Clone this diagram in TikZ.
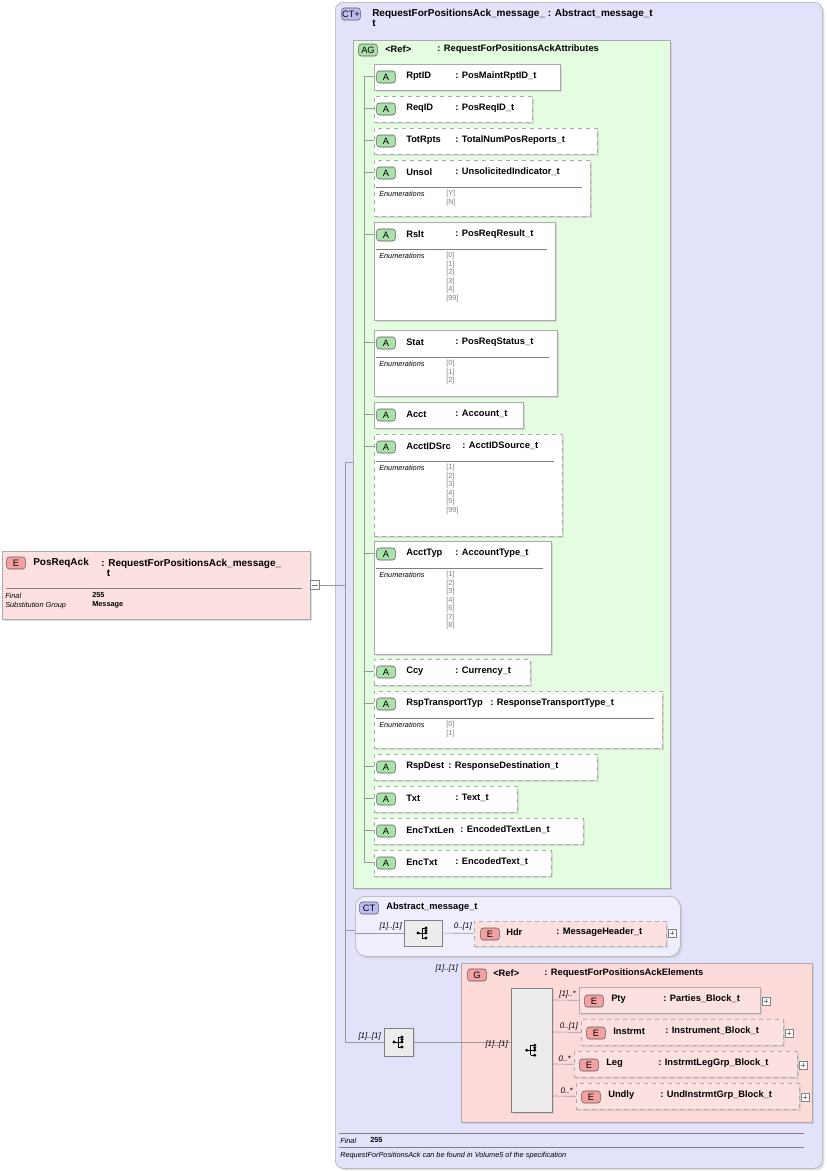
\documentclass[tikz,border=0pt]{standalone}
\usepackage{fontspec}
\setmainfont{Liberation Sans}
\usetikzlibrary{positioning,shadows}
\definecolor{ctbg}{RGB}{226,226,250}
\definecolor{agbg}{RGB}{228,252,224}
\definecolor{ebg}{RGB}{253,224,224}
\definecolor{gbg}{RGB}{253,218,218}
\definecolor{bord}{RGB}{170,170,170}
\definecolor{abadge}{RGB}{170,225,170}
\definecolor{ebadge}{RGB}{245,160,160}
\definecolor{ctbadge}{RGB}{190,190,245}
\tikzset{
 x=0.75pt,y=-0.75pt,
 every node/.style={inner sep=0pt,font=\fontsize{7}{8}\selectfont\bfseries},
 box/.style={draw=bord,fill=white,drop shadow={shadow xshift=1.5pt,shadow yshift=-1.5pt,fill=black!25}},
 dbox/.style={box,dashed},
 wire/.style={draw=gray!80,line width=0.5pt},
 badge/.style={draw=gray!70!black,rounded corners=2pt,minimum width=14pt,minimum height=9pt,font=\fontsize{7}{8}\selectfont},
 enum/.style={font=\fontsize{5.5}{6.4}\selectfont,text=gray,anchor=north west,align=left},
 lab/.style={font=\fontsize{5.5}{6.5}\selectfont\itshape,anchor=west},
 mult/.style={font=\fontsize{6}{7}\selectfont\itshape,anchor=south east},
 seq/.style={draw=gray,fill=gray!15,drop shadow={shadow xshift=1pt,shadow yshift=-1pt,fill=black!25}},
 plusbox/.style={draw=gray,fill=white,minimum size=6pt,path picture={\draw[gray,line width=0.3pt] ([xshift=-1.5pt]path picture bounding box.center) -- ([xshift=1.5pt]path picture bounding box.center) ([yshift=-1.5pt]path picture bounding box.center) -- ([yshift=1.5pt]path picture bounding box.center);}},
}
\newcommand\seqicon[1]{%
 \fill (#1) ++(-5,0) circle (1.2pt);
 \draw[line width=0.5pt] (#1) ++(-5,0) -- ++(4,0) ++(0,-5) -- ++(0,10) ++(0,-10) -- ++(3,0) ++(0,5) -- ++(-3,0) ++(0,5) -- ++(3,0);
 \foreach \dy in {-5,0,5} \fill (#1) ++(3,\dy) circle (1.2pt);
 \fill (#1) ++(3,-2.5) circle (1.2pt);}
% #1 name #2 top #3 bottom #4 right #5 label #6 type #7 style #8 enums #9 type x
\newcommand\attrbox[9]{%
 \node[#7,fill=white,minimum width=(#4-374)*0.75pt,minimum height=(#3-#2)*0.75pt,anchor=north west] (#1) at (374,#2) {};
 \node[badge,fill=abadge] at (386,#2+13) {A};
 \node[anchor=west] at (406,#2+12) {#5};
 \node[anchor=west] at (#9,#2+12) {: #6};
 \draw[wire] (364,#2+12) -- (374,#2+12);
 \ifx&#8&\else
 \draw[gray] (376,#2+27) -- (#4-8,#2+27);
 \node[lab] at (379,#2+34) {Enumerations};
 \node[enum] at (446,#2+30) {#8};
 \fi}
\newcommand\elem[8]{%
 \node[#7,fill=ebg,minimum width=(#4-#1)*0.75pt,minimum height=26*0.75pt,anchor=north west] (e#5) at (#1,#2) {};
 \draw[wire] (552,#2+13) -- (e#5.west);
 \node[mult] at (#1-3,#2+11) {#8};
 \node[badge,fill=ebadge] at (#1+15,#2+14) {E};
 \node[anchor=west] at (#1+32,#2+12) {#5};
 \node[anchor=west] at (#1+84,#2+12) {: #6};
 \node[plusbox] at (#4+6,#2+14) {};}
\begin{document}
\begin{tikzpicture}
\useasboundingbox (0,0) rectangle (827,1171);
\fill[white] (0,0) rectangle (827,1171);
% outer CT
\node[draw=bord,fill=ctbg,rounded corners=6pt,minimum width=487*0.75pt,minimum height=1166*0.75pt,anchor=north west,drop shadow={shadow xshift=1.5pt,shadow yshift=-1.5pt,fill=black!25}] (ct) at (335,2) {};
\node[badge,fill=ctbadge] at (351,14) {CT+};
\node[anchor=west,align=left,font=\fontsize{7.5}{8}\selectfont\bfseries] at (372,18) {RequestForPositionsAck\_message\_ : Abstract\_message\_t\\t};
% left element
\node[box,fill=ebg,minimum width=308*0.75pt,minimum height=68*0.75pt,anchor=north west] (el) at (2,551) {};
\node[badge,fill=ebadge] at (16,563) {E};
\node[anchor=west,font=\fontsize{7.5}{8}\selectfont\bfseries] at (33,563) {PosReqAck};
\node[anchor=west,align=left,font=\fontsize{7.5}{8}\selectfont\bfseries] at (101,568) {: RequestForPositionsAck\_message\_\\\ \ t};
\draw[gray] (6,588) -- (302,588);
\node[lab] at (5,596) {Final};
\node[lab] at (5,606) {Substitution Group};
\node[anchor=west,font=\fontsize{5.5}{6.5}\selectfont\bfseries] at (92,595) {255};
\node[anchor=west,font=\fontsize{5.5}{6.5}\selectfont\bfseries] at (92,605) {Message};
\node[draw=gray,fill=white,minimum size=7pt] (minus) at (315,585) {};
\draw[gray] (312,585) -- (318,585);
\draw[wire] (minus) -- (345,585);
\draw[wire] (345,462) -- (345,1042);
\draw[wire] (345,462) -- (353,462);
\draw[wire] (345,930) -- (355,930);
% AG box
\node[box,fill=agbg,minimum width=317*0.75pt,minimum height=848*0.75pt,anchor=north west] (ag) at (353,40) {};
\node[badge,fill=abadge] at (368,50) {AG};
\node[anchor=west] at (385,49) {<Ref>};
\node[anchor=west] at (437,49) {: RequestForPositionsAckAttributes};
\draw[wire] (364,76) -- (364,862);
\attrbox{rptid}{64}{90}{560}{RptID}{PosMaintRptID\_t}{box}{}{455}
\attrbox{reqid}{96}{122}{532}{ReqID}{PosReqID\_t}{dbox}{}{455}
\attrbox{totrpts}{128}{154}{597}{TotRpts}{TotalNumPosReports\_t}{dbox}{}{455}
\attrbox{unsol}{160}{216}{590}{Unsol}{UnsolicitedIndicator\_t}{dbox}{{[Y]}\\{[N]}}{455}
\attrbox{rslt}{222}{320}{555}{Rslt}{PosReqResult\_t}{box}{{[0]}\\{[1]}\\{[2]}\\{[3]}\\{[4]}\\{[99]}}{455}
\attrbox{stat}{330}{396}{557}{Stat}{PosReqStatus\_t}{box}{{[0]}\\{[1]}\\{[2]}}{455}
\attrbox{acct}{402}{428}{523}{Acct}{Account\_t}{box}{}{455}
\attrbox{acctidsrc}{434}{536}{562}{AcctIDSrc}{AcctIDSource\_t}{dbox}{{[1]}\\{[2]}\\{[3]}\\{[4]}\\{[5]}\\{[99]}}{462}
\attrbox{accttyp}{541}{654}{551}{AcctTyp}{AccountType\_t}{box}{{[1]}\\{[2]}\\{[3]}\\{[4]}\\{[6]}\\{[7]}\\{[8]}}{455}
\attrbox{ccy}{659}{685}{530}{Ccy}{Currency\_t}{dbox}{}{455}
\attrbox{rsptt}{691}{748}{662}{RspTransportTyp}{ResponseTransportType\_t}{dbox}{{[0]}\\{[1]}}{490}
\attrbox{rspdest}{754}{780}{597}{RspDest}{ResponseDestination\_t}{dbox}{}{448}
\attrbox{txt}{786}{812}{517}{Txt}{Text\_t}{dbox}{}{455}
\attrbox{enctxtlen}{818}{844}{583}{EncTxtLen}{EncodedTextLen\_t}{dbox}{}{460}
\attrbox{enctxt}{850}{876}{551}{EncTxt}{EncodedText\_t}{dbox}{}{455}
% Abstract message
\node[draw=bord,fill=ctbg!60!white,rounded corners=8pt,minimum width=325*0.75pt,minimum height=60*0.75pt,anchor=north west,drop shadow={shadow xshift=1.5pt,shadow yshift=-1.5pt,fill=black!25}] (abs) at (355,896) {};
\node[badge,fill=ctbadge] at (369,908) {CT};
\node[anchor=west] at (386,907) {Abstract\_message\_t};
\node[seq,minimum width=38*0.75pt,minimum height=26*0.75pt] (s1) at (423,933) {};
\seqicon{s1}
\draw[wire] (355,933) -- (s1);
\node[mult] at (402,930) {[1]..[1]};
\node[dbox,fill=ebg,minimum width=192*0.75pt,minimum height=25*0.75pt,anchor=north west] (hdr) at (474,921) {};
\draw[wire] (s1) -- (hdr);
\node[mult] at (472,930) {0..[1]};
\node[badge,fill=ebadge] at (490,934) {E};
\node[anchor=west] at (506,932) {Hdr};
\node[anchor=west] at (556,932) {: MessageHeader\_t};
\node[plusbox] at (672,933) {};
% Group
\node[box,fill=gbg,minimum width=351*0.75pt,minimum height=159*0.75pt,anchor=north west] (grp) at (461,963) {};
\node[mult] at (458,972) {[1]..[1]};
\node[badge,fill=ebadge] at (477,975) {G};
\node[anchor=west] at (493,973) {<Ref>};
\node[anchor=west] at (544,973) {: RequestForPositionsAckElements};
\node[seq,minimum width=29*0.75pt,minimum height=28*0.75pt] (s2) at (399,1042) {};
\seqicon{s2}
\draw[wire] (345,1042) -- (s2);
\node[mult] at (381,1040) {[1]..[1]};
\node[seq,minimum width=41*0.75pt,minimum height=124*0.75pt,anchor=north west] (s3) at (511,988) {};
\seqicon{s3}
\draw[wire] (s2) -- (s3.west|-s2);
\node[mult] at (508,1048) {[1]..[1]};
\elem{579}{987}{}{760}{Pty}{Parties\_Block\_t}{box}{[1]..*}
\elem{581}{1019}{}{783}{Instrmt}{Instrument\_Block\_t}{dbox}{0..[1]}
\elem{574}{1051}{}{797}{Leg}{InstrmtLegGrp\_Block\_t}{dbox}{0..*}
\elem{576}{1083}{}{799}{Undly}{UndInstrmtGrp\_Block\_t}{dbox}{0..*}
% footer
\draw[gray] (339,1133) -- (804,1133);
\node[lab] at (340,1141) {Final};
\node[anchor=west,font=\fontsize{5.5}{6.5}\selectfont\bfseries] at (370,1140) {255};
\draw[gray] (339,1147) -- (804,1147);
\node[lab] at (340,1156) {RequestForPositionsAck can be found in Volume5 of the specification};
\end{tikzpicture}
\end{document}
